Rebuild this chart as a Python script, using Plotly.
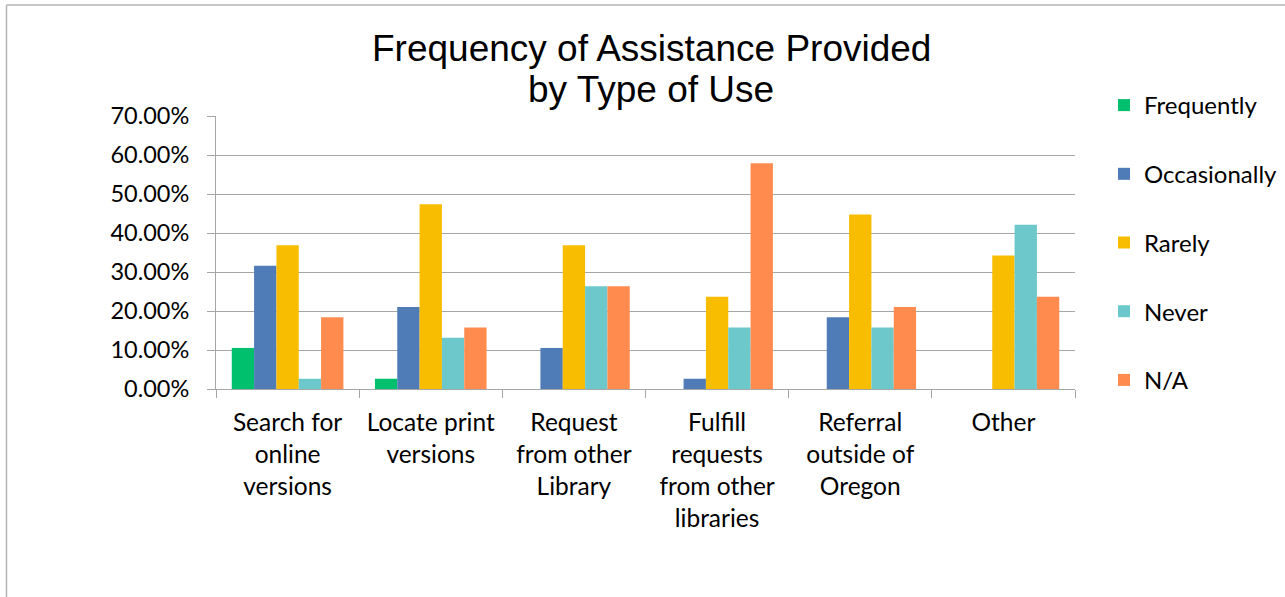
import plotly.graph_objects as go

# Categories (type of use) and share of responses per frequency level
categories = [
    "Search for<br>online<br>versions",
    "Locate print<br>versions",
    "Request<br>from other<br>Library",
    "Fulfill<br>requests<br>from other<br>libraries",
    "Referral<br>outside of<br>Oregon",
    "Other",
]
frequently = [0.1053, 0.0263, 0.0, 0.0, 0.0, 0.0]
occasionally = [0.3158, 0.2105, 0.1053, 0.0263, 0.1842, 0.0]
rarely = [0.3684, 0.4737, 0.3684, 0.2368, 0.4474, 0.3421]
never = [0.0263, 0.1316, 0.2632, 0.1579, 0.1579, 0.4211]
not_applicable = [0.1842, 0.1579, 0.2632, 0.5789, 0.2105, 0.2368]

title_lines = ["Frequency of Assistance Provided", "by Type of Use"]

series = [
    ("Frequently", frequently, "#00c06d"),
    ("Occasionally", occasionally, "#4f7cb6"),
    ("Rarely", rarely, "#f9bd00"),
    ("Never", never, "#6cc8cb"),
    ("N/A", not_applicable, "#ff8b4f"),
]

W, H = 1285, 597
L, R, T, B = 216, 210, 116, 208
pw, ph = W - L - R, H - T - B

fig = go.Figure()
for i, (name, vals, color) in enumerate(series):
    fig.add_trace(go.Bar(
        x=categories, y=vals, name=name,
        marker=dict(color=color, line=dict(width=0)),
        legendgroup=f"g{i}",
    ))

def px_x(p):
    return (p - L) / pw

def px_y(p):
    return 1 - (p - T) / ph

grid = "#a6a6a6"
title_font = dict(family="Liberation Sans, Arial", size=37, color="black")

annotations = [
    dict(text=line, xref="paper", yref="paper",
         x=px_x(651), y=px_y(yc), xanchor="center", yanchor="middle",
         showarrow=False, font=title_font)
    for line, yc in zip(title_lines, [48, 90])
]

fig.update_layout(
    width=W, height=H,
    margin=dict(l=L, r=R, t=T, b=B, autoexpand=False),
    paper_bgcolor="white", plot_bgcolor="white",
    barmode="group", bargap=0.22, bargroupgap=0,
    font=dict(family="Lato", size=24, color="black"),
    annotations=annotations,
    legend=dict(
        x=px_x(1104), xanchor="left",
        y=px_y(83), yanchor="top",
        font=dict(family="Lato", size=24, color="black"),
        tracegroupgap=34.5,
        maxheight=520,
        bgcolor="rgba(0,0,0,0)",
    ),
    xaxis=dict(
        type="category",
        tickson="boundaries",
        ticks="outside", ticklen=8, tickcolor=grid, tickwidth=1,
        showline=True, linecolor=grid, linewidth=1,
        showgrid=False,
        ticklabelstandoff=12,
        tickfont=dict(family="Lato", size=24.5, color="black"),
    ),
    yaxis=dict(
        range=[0, 0.7], dtick=0.1, tick0=0,
        tickformat=".2%",
        ticks="outside", ticklen=8, tickcolor=grid, tickwidth=1,
        showline=True, linecolor=grid, linewidth=1,
        showgrid=True, gridcolor=grid, gridwidth=1,
        zeroline=False,
        ticklabelstandoff=13,
        tickfont=dict(family="Lato", size=23.5, color="black"),
    ),
    shapes=[
        # outer frame: top and left edges
        dict(type="line", xref="paper", yref="paper",
             x0=px_x(6.5), x1=px_x(W + 2), y0=px_y(5), y1=px_y(5),
             line=dict(color="#b3b3b3", width=1.5)),
        dict(type="line", xref="paper", yref="paper",
             x0=px_x(6.5), x1=px_x(6.5), y0=px_y(5), y1=px_y(H + 2),
             line=dict(color="#b3b3b3", width=1.5)),
    ],
)

fig.write_html("out.html")
